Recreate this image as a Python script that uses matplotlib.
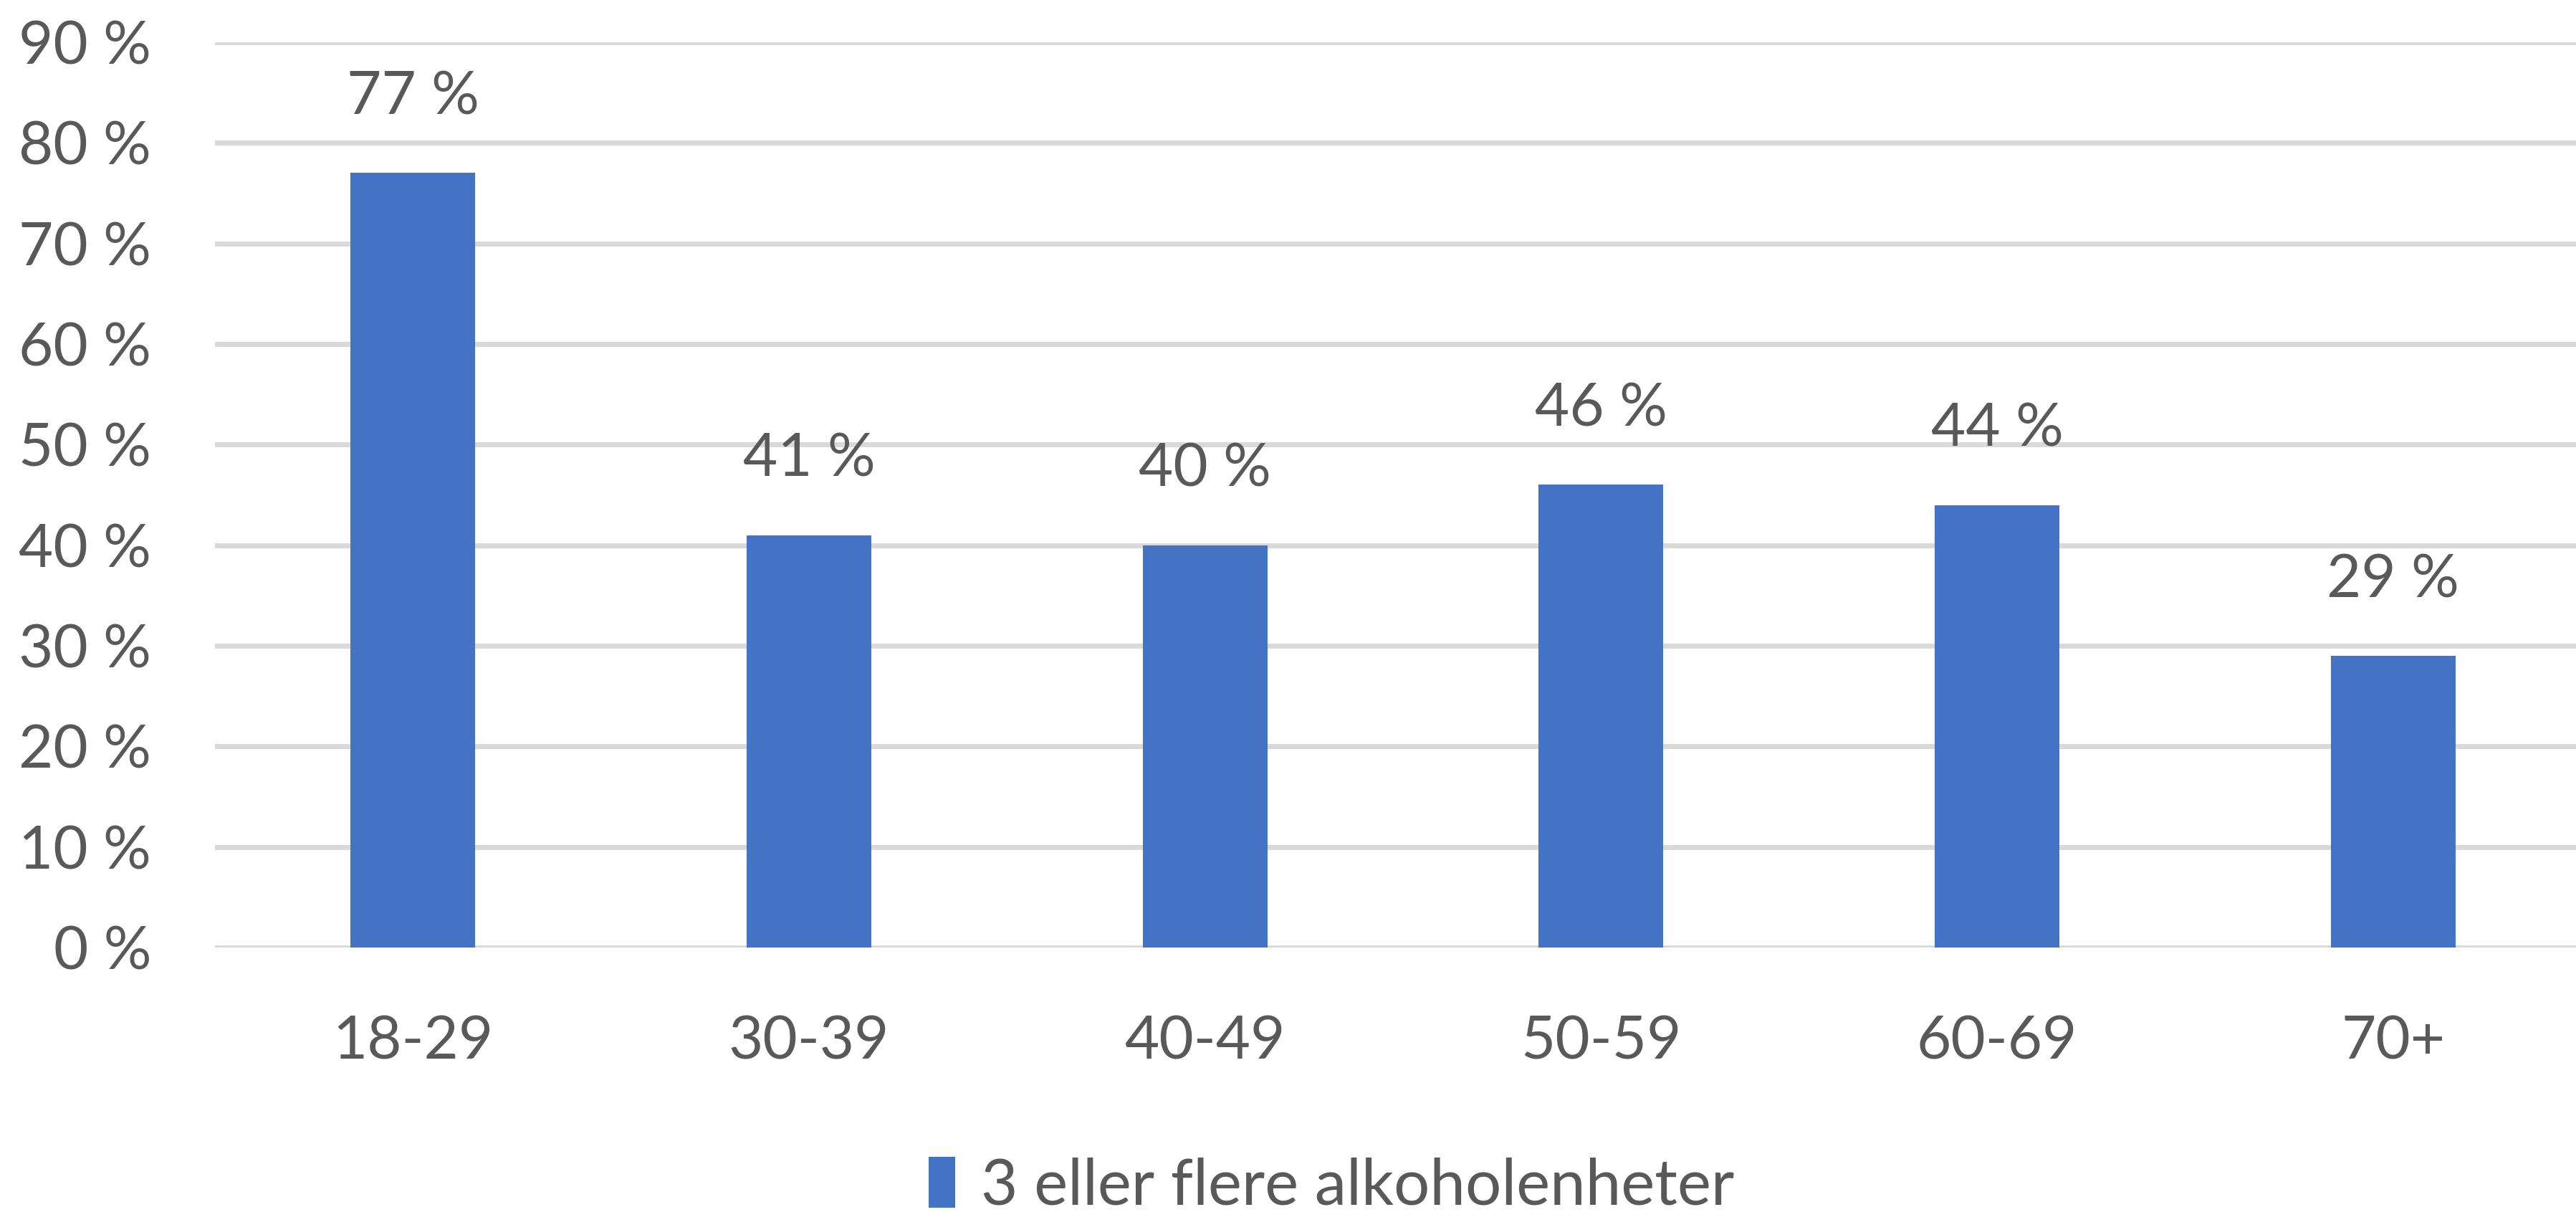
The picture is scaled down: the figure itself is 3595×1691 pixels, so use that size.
import matplotlib
matplotlib.use("Agg")
import matplotlib.pyplot as plt
import numpy as np

plt.rcParams['font.family'] = ['Lato', 'DejaVu Sans']

categories = ['18-29', '30-39', '40-49', '50-59', '60-69', '70+']
values = [77, 41, 40, 46, 44, 29]
series_name = '3 eller flere alkoholenheter'
yticks = [0, 10, 20, 30, 40, 50, 60, 70, 80, 90]

bar_color = '#4472C4'
text_color = '#595959'
grid_color = '#D9D9D9'

fig = plt.figure(figsize=(35.95, 16.91), dpi=100)
W, H = 3595, 1691
left, right = 300 / W, 3616 / W
bottom, top = 1 - 1322 / H, 1 - 59 / H
ax = fig.add_axes([left, bottom, right - left, top - bottom])

x = np.arange(len(categories))
bars = ax.bar(x, values, width=0.315, color=bar_color, zorder=3, label=series_name)

for xi, v in zip(x, values):
    ax.annotate(f'{v} %', (xi, v), xytext=(0, 48), textcoords='offset points',
                ha='center', va='bottom', fontsize=60, color=text_color)

ax.set_xlim(-0.5, len(categories) - 0.5)
ax.set_ylim(0, 90)
ax.set_yticks(yticks)
ax.set_yticklabels([f'{t} %' for t in yticks])
ax.set_xticks(x)
ax.set_xticklabels(categories)

for s in ax.spines.values():
    s.set_visible(False)
ax.yaxis.grid(True, color=grid_color, linewidth=5, zorder=0)
ax.set_axisbelow(True)
ax.tick_params(axis='y', length=0, pad=64, labelsize=60, labelcolor=text_color)
ax.tick_params(axis='x', length=0, pad=68, labelsize=60, labelcolor=text_color)

fig.legend(handles=[bars], labels=[series_name], loc='center',
           bbox_to_anchor=(1858 / W, 1 - 1655 / H), frameon=False,
           fontsize=64, labelcolor=text_color, handlelength=0.42, handleheight=0.85,
           handletextpad=0.4)

fig.savefig('out.png', dpi=100, facecolor='white')
